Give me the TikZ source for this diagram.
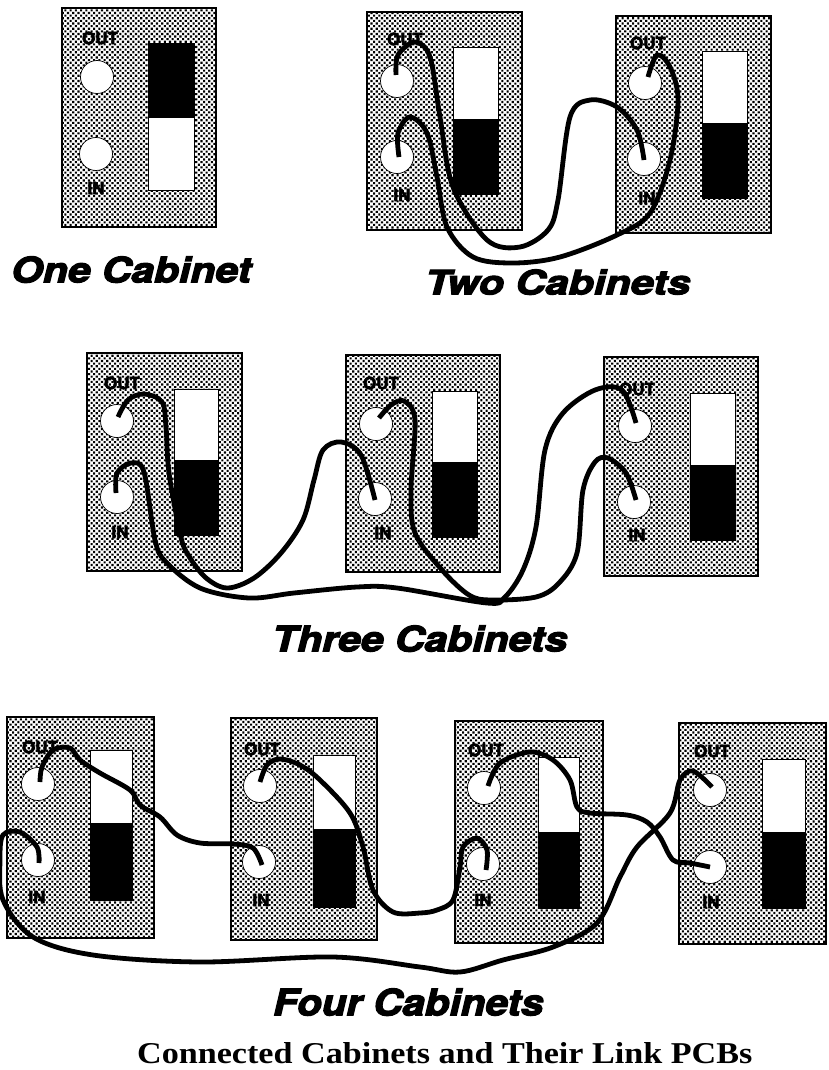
\documentclass[tikz,border=0pt]{standalone}
\usepackage{fontspec}
\usetikzlibrary{patterns.meta}
\newfontfamily\ttlfont[FakeBold=3.2]{TeX Gyre Heros}
\newfontfamily\lblfont[FakeBold=2.6]{TeX Gyre Heros}
\newfontfamily\capfont{Liberation Serif}
\tikzset{
  cabbox/.style={draw=black,line width=1.9pt,inner sep=0pt,outer sep=0pt,anchor=north west,
    preaction={fill=white},pattern={Dots[radius=1.5pt,distance=3.7pt,angle=45]},pattern color=black},
  jack/.style={circle,draw=black,line width=0.7pt,fill=white,minimum size=33pt,inner sep=0pt},
  wire/.style={draw=black,line width=4.8pt,line cap=butt,line join=round},
  lbl/.style={inner sep=0pt,font=\lblfont\bfseries\fontsize{17}{17}\selectfont,text=black},
  ttl/.style={inner sep=0pt,anchor=south west,text=black},
  swwhite/.style={fill=white,draw=black,line width=0.8pt},
  swblack/.style={fill=black,draw=black,line width=0.8pt}
}
\newcommand{\cabrect}[5]{\node[cabbox,minimum width={(#4-#2)*1pt},minimum height={(#5-#3)*1pt}] (#1) at (#2,#3) {};}
\newcommand{\jacks}[9]{%
  \node[jack] (#1o) at (#2,#3) {};
  \node[jack] (#1i) at (#4,#5) {};
  \node[lbl] (#1ol) at (#6,#7) {OUT};
  \node[lbl] (#1il) at (#8,#9) {IN};}
\newcommand{\swup}[5]{% white on top, black below
  \path[swwhite] (#1,#2) rectangle (#5,#3);
  \path[swblack] (#1,#3) rectangle (#5,#4);}
\newcommand{\swdown}[5]{% black on top
  \path[swwhite] (#1,#3) rectangle (#5,#4);
  \path[swblack] (#1,#2) rectangle (#5,#3);}
\newcommand{\titletext}[5]{\node[ttl] (#1) at (#2,#3) {\resizebox{#4pt}{#5pt}{\ttlfont\bfseries\itshape #1}};}
\begin{document}
\begin{tikzpicture}[x=1pt,y=-1pt]
\useasboundingbox (0,0) rectangle (828,1070);
% One cabinet
\cabrect{ca}{62}{8}{216}{227}
\swdown{148}{43}{117}{190}{194}
\jacks{ca}{97}{77}{96}{154}{100}{38}{96}{188}
% Two cabinets
\cabrect{da}{367}{12}{522}{230}
\swup{453}{47}{119}{194}{498}
\jacks{da}{397}{81}{397}{157}{405}{39}{402}{195}
\cabrect{db}{616}{16}{771}{233}
\swup{702}{51}{123}{198}{747}
\jacks{db}{645}{83}{644}{159}{648}{43}{647}{198}
% Three cabinets
\cabrect{ea}{87}{353}{242}{571}
\swup{174}{389}{460}{535}{218}
\jacks{ea}{117}{421}{117}{497}{122}{383}{120}{532}
\cabrect{eb}{346}{355}{500}{572}
\swup{432}{391}{462}{537}{477}
\jacks{eb}{376}{424}{375}{499}{381}{383}{383}{533}
\cabrect{ec}{604}{357}{758}{576}
\swup{690}{393}{465}{540}{735}
\jacks{ec}{635}{426}{634}{502}{637}{389}{637}{535}
% Four cabinets
\cabrect{fa}{7}{717}{154}{938}
\swup{90}{750}{823}{900}{132}
\jacks{fa}{38}{784}{38}{860}{40}{747}{37}{897}
\cabrect{fb}{231}{718}{377}{940}
\swup{313}{755}{829}{907}{355}
\jacks{fb}{260}{786}{259}{862}{262}{749}{261}{900}
\cabrect{fc}{455}{721}{603}{943}
\swup{538}{757}{832}{908}{579}
\jacks{fc}{484}{788}{483}{864}{486}{750}{483}{900}
\cabrect{fd}{679}{723}{826}{944}
\swup{762}{759}{832}{908}{805}
\jacks{fd}{710}{790}{710}{867}{712}{751}{711}{902}
% wire ends
\coordinate (dao) at (396,75); \coordinate (dai) at (399,157);
\coordinate (dbo) at (648,77); \coordinate (dbi) at (644,160);
\coordinate (eao) at (118,417); \coordinate (eai) at (116,493);
\coordinate (ebo) at (379,418); \coordinate (ebi) at (375,500);
\coordinate (eco) at (636,423); \coordinate (eci) at (636,500);
\coordinate (fao) at (40,782); \coordinate (fai) at (39,863);
\coordinate (fbo) at (260,782); \coordinate (fbi) at (262,865);
\coordinate (fco) at (488,786); \coordinate (fci) at (486,870);
\coordinate (fdo) at (712,787); \coordinate (fdi) at (710,867);
% Two: wires
\draw[wire] plot[smooth,tension=.55] coordinates {(dao) (398,55) (415,42) (430,57) (440,117) (453,187) (487,240) (520,247) (548,230) (558,200) (570,117) (590,100) (617,107) (637,130) (dbi)};
\draw[wire] plot[smooth,tension=.55] coordinates {(dai) (398,133) (410,117) (427,133) (437,177) (447,227) (473,257) (513,263) (560,257) (617,235) (650,213) (670,160) (678,100) (670,67) (657,55) (dbo)};
% Three: wires
\draw[wire] plot[smooth,tension=.55] coordinates {(eao) (128,400) (144,394) (162,402) (166,427) (169,473) (180,533) (187,553) (205,577) (227,588) (254,578) (281,553) (303,520) (314,480) (323,450) (341,442) (361,455) (ebi)};
\draw[wire] plot[smooth,tension=.55] coordinates {(eai) (117,473) (131,463) (144,472) (155,540) (166,562) (200,588) (249,598) (294,593) (357,587) (397,588) (487,603) (505,597) (523,570) (536,527) (545,450) (563,413) (595,390) (622,390) (eco)};
\draw[wire] plot[smooth,tension=.55] coordinates {(ebo) (391,405) (404,401) (415,420) (411,490) (415,533) (442,570) (469,595) (491,600) (536,597) (559,583) (577,553) (583,490) (595,462) (608,458) (626,473) (eci)};
% Four: wires
\draw[wire] plot[smooth,tension=.55] coordinates {(fao) (42,767) (53,750) (70,748) (80,760) (100,773) (130,790) (140,805) (160,817) (177,835) (200,843) (233,844) (253,848) (fbi)};
\draw[wire] plot[smooth,tension=.55] coordinates {(fbo) (267,765) (280,759) (300,765) (320,780) (350,813) (363,847) (373,890) (393,912) (420,913) (437,910) (453,900) (460,867) (463,847) (477,838) (487,850) (fci)};
\draw[wire] plot[smooth,tension=.55] coordinates {(fco) (500,763) (530,752) (553,760) (570,780) (577,807) (590,813) (627,815) (647,822) (660,837) (673,860) (690,863) (fdi)};
\draw[wire] plot[smooth,tension=.55] coordinates {(fai) (37,847) (20,832) (3,835) (0,860) (3,900) (33,937) (93,955) (200,962) (333,957) (420,967) (460,972) (503,960) (553,947) (597,923) (620,877) (637,847) (670,813) (680,780) (693,771) (fdo)};
% Titles
\titletext{One Cabinet}{11}{283}{240}{26}
\titletext{Two Cabinets}{425}{295}{265}{25}
\titletext{Three Cabinets}{272}{652}{295}{26}
\titletext{Four Cabinets}{273}{1016}{270}{27}
\node[ttl] (caption) at (137,1064) {\resizebox{615pt}{21pt}{\capfont\bfseries Connected Cabinets and Their Link PCBs}};
\end{tikzpicture}
\end{document}
